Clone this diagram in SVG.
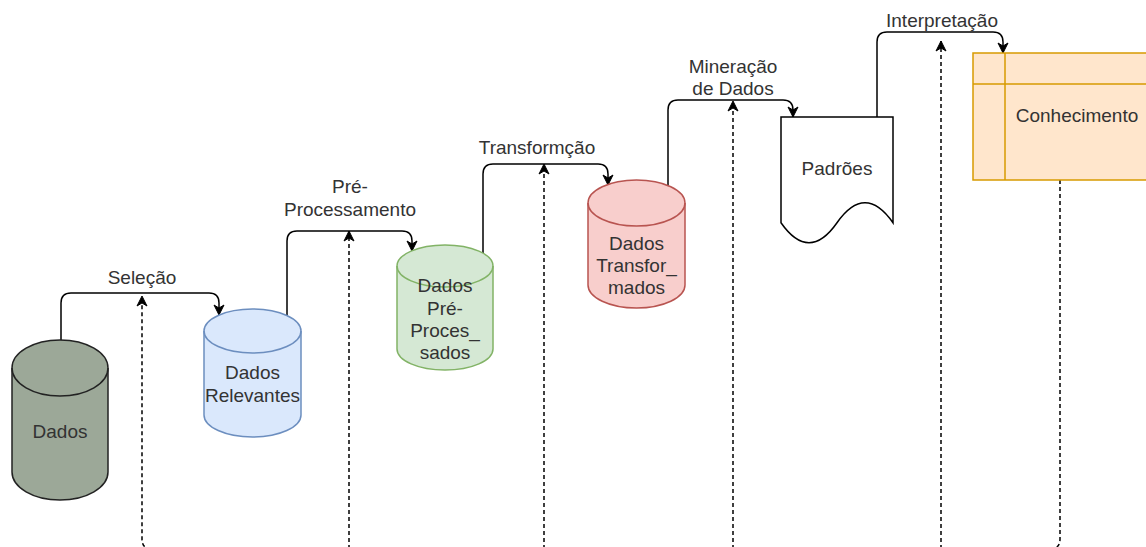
<svg xmlns="http://www.w3.org/2000/svg" width="1146" height="547" viewBox="0 0 1146 547">
  <style>
    text { font-family: "Liberation Sans", Arial, sans-serif; font-size: 19px; fill: #333; text-anchor: middle; }
    .flow { fill: none; stroke: #000; stroke-width: 1.5; }
    .back { fill: none; stroke: #000; stroke-width: 1.5; stroke-dasharray: 4 3; }
    .shape { stroke-width: 1.5; }
  </style>
  <defs>
    <marker id="arrow" viewBox="0 0 12 12" markerWidth="12" markerHeight="12" refX="11" refY="6" orient="auto" markerUnits="userSpaceOnUse">
      <path d="M1,1 L11,6 L1,11 L4,6 Z" fill="#000" stroke="#000" stroke-width="1" stroke-dasharray="none"/>
    </marker>
  </defs>

  <!-- connectors -->
  <g id="connectors">
    <!-- process steps -->
    <path class="flow" d="M61,340 V303 Q61,293 71,293 H209 Q219,293 219,303 V315" marker-end="url(#arrow)"/>
    <path class="flow" d="M287,316 V241 Q287,231 297,231 H402 Q412,231 412,241 V251" marker-end="url(#arrow)"/>
    <path class="flow" d="M483,253 V174 Q483,164 493,164 H598 Q608,164 608,174 V185" marker-end="url(#arrow)"/>
    <path class="flow" d="M668,186 V110 Q668,100 678,100 H783 Q793,100 793,110 V117" marker-end="url(#arrow)"/>
    <path class="flow" d="M877,117 V42 Q877,32 887,32 H993 Q1003,32 1003,42 V53" marker-end="url(#arrow)"/>
    <!-- feedback from knowledge to every step -->
    <path class="back" d="M1060,180 V539 Q1060,549 1050,549 H152 Q142,549 142,539 V296" marker-end="url(#arrow)"/>
    <path class="back" d="M349,549 V231" marker-end="url(#arrow)"/>
    <path class="back" d="M544,549 V164" marker-end="url(#arrow)"/>
    <path class="back" d="M733,549 V101" marker-end="url(#arrow)"/>
    <path class="back" d="M941,549 V41" marker-end="url(#arrow)"/>
    <!-- step labels -->
    <text x="142" y="284">Seleção</text>
    <text x="350" y="193">Pré-</text>
    <text x="350" y="216">Processamento</text>
    <text x="537" y="154">Transformção</text>
    <text x="733" y="73">Mineração</text>
    <text x="733" y="95">de Dados</text>
    <text x="942" y="27">Interpretação</text>
  </g>

  <g id="dados">
    <path class="shape" d="M12,368 A48,28 0 0 1 108,368 V472 A48,28 0 0 1 12,472 Z" fill="#9ca898" stroke="#222"/>
    <path class="shape" d="M12,368 A48,28 0 0 0 108,368" fill="none" stroke="#222"/>
    <text x="60" y="438">Dados</text>
  </g>

  <g id="dados-relevantes">
    <path class="shape" d="M204,331 A48.5,22 0 0 1 301,331 V415 A48.5,22 0 0 1 204,415 Z" fill="#dae8fc" stroke="#6c8ebf"/>
    <path class="shape" d="M204,331 A48.5,22 0 0 0 301,331" fill="none" stroke="#6c8ebf"/>
    <text x="252.5" y="379">Dados</text>
    <text x="252.5" y="402">Relevantes</text>
  </g>

  <g id="dados-pre-processados">
    <path class="shape" d="M397,266 A48,21 0 0 1 493,266 V349 A48,21 0 0 1 397,349 Z" fill="#d5e8d4" stroke="#82b366"/>
    <path class="shape" d="M397,266 A48,21 0 0 0 493,266" fill="none" stroke="#82b366"/>
    <text x="445" y="292">Dados</text>
    <text x="445" y="315">Pré-</text>
    <text x="445" y="337">Proces_</text>
    <text x="445" y="359">sados</text>
  </g>

  <g id="dados-transformados">
    <path class="shape" d="M588,203 A48.5,23 0 0 1 685,203 V285 A48.5,23 0 0 1 588,285 Z" fill="#f8cecc" stroke="#b85450"/>
    <path class="shape" d="M588,203 A48.5,23 0 0 0 685,203" fill="none" stroke="#b85450"/>
    <text x="636.5" y="250">Dados</text>
    <text x="636.5" y="272">Transfor_</text>
    <text x="636.5" y="294">mados</text>
  </g>

  <g id="padroes">
    <path class="shape" d="M781,117 H893 V222.8 Q865,182.8 837,222.8 Q809,262.8 781,222.8 Z" fill="#fff" stroke="#000"/>
    <text x="837" y="175">Padrões</text>
  </g>

  <g id="conhecimento">
    <rect class="shape" x="973" y="53" width="190" height="127" fill="#ffe6cc" stroke="#d79b00"/>
    <path class="shape" d="M1005,53 V180 M973,84 H1163" fill="none" stroke="#d79b00"/>
    <text x="1077" y="122">Conhecimento</text>
  </g>
</svg>
